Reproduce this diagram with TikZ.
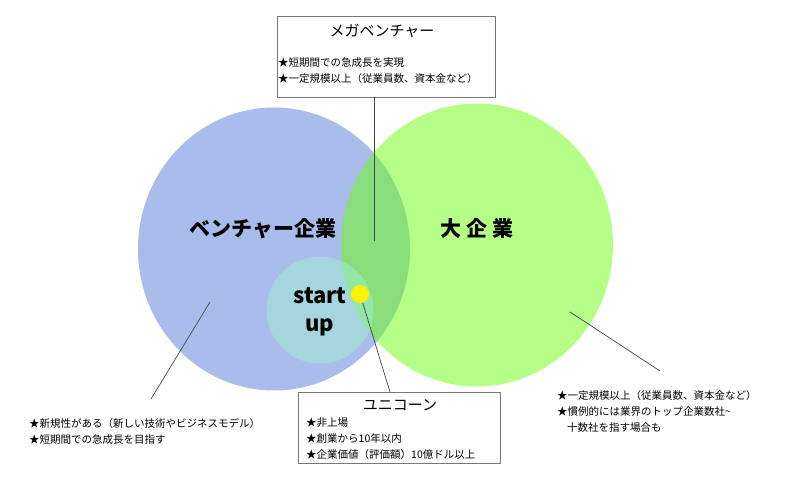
\documentclass[tikz,border=0pt]{standalone}
\usepackage{fontspec}
\setmainfont{Noto Sans CJK JP}
\usepackage{tikz}
\usetikzlibrary{shapes,shapes.geometric,calc,positioning}

\definecolor{venblue}{RGB}{85,121,215}
\definecolor{biggreen}{RGB}{107,255,13}
\definecolor{startcyan}{RGB}{160,240,210}
\definecolor{boxgray}{RGB}{120,120,120}
\definecolor{leadgray}{RGB}{70,70,70}

\begin{document}
\begin{tikzpicture}[%
x=1pt, y=-1pt,
set/.style={ellipse, inner sep=0pt, minimum width=272pt, minimum height=283pt, fill opacity=0.5},
infobox/.style={draw=boxgray, line width=0.9pt, fill=white, inner sep=0pt},
boxtitle/.style={font=\fontsize{15}{18}\selectfont},
items/.style={align=left, inner sep=0pt, anchor=west, font=\fontsize{10.5}{16}\selectfont},
biglabel/.style={font=\fontsize{21}{26}\selectfont\bfseries},
leader/.style={draw=leadgray, line width=0.7pt}
]
\useasboundingbox (0,0) rectangle (800,478);

% the three sets
\node[set, fill=venblue] (venture) at (274,249) {};
\node[set, fill=biggreen] (large) at (477,245) {};
\node[circle, inner sep=0pt, minimum size=107pt, fill=startcyan, fill opacity=0.5] (startup) at (320,310) {};
\node[circle, inner sep=0pt, minimum size=18pt, fill=yellow] (unicorndot) at (360,294) {};

\node[biglabel] (venturelabel) at (263,229) {ベンチャー企業};
\node[biglabel] (largelabel) at (477,228) {大 企 業};
\node[biglabel, align=center, font=\fontsize{22}{28}\selectfont\bfseries] (startlabel) at (320,312) {start\\up};

% boxes
\node[infobox, minimum width=218pt, minimum height=81pt] (mega) at (386,56.5) {};
\node[boxtitle] (megatitle) at (382,31) {メガベンチャー};
\node[items] (megaitems) at (278,70.5) {★短期間での急成長を実現\\★一定規模以上（従業員数、資本金など）};

\node[infobox, minimum width=202pt, minimum height=71pt] (unicorn) at (399,427.5) {};
\node[boxtitle] (unicorntitle) at (400,405) {ユニコーン};
\node[items] (unicornitems) at (306,438.5) {★非上場\\★創業から10年以内\\★企業価値（評価額）10億ドル以上};

\node[items] (ventureitems) at (29,431.5) {★新規性がある（新しい技術やビジネスモデル）\\★短期間での急成長を目指す};
\node[items] (largeitems) at (557,411) {★一定規模以上（従業員数、資本金など）\\★慣例的には業界のトップ企業数社\textasciitilde\\\hspace*{10pt}十数社を指す場合も};

\coordinate (megatip) at (374,241);
\coordinate (unicorntip) at (390,392);
\coordinate (venturetip) at (210,302);
\coordinate (ventureend) at (151,399);
\coordinate (largetip) at (570,312);
\coordinate (largeend) at (660,371);

% leaders
\path (megatip |- mega.south) edge[leader] (megatip);
\path (unicorndot) edge[leader] (unicorntip);
\path (venturetip) edge[leader] (ventureend);
\path (largetip) edge[leader] (largeend);
\end{tikzpicture}
\end{document}
